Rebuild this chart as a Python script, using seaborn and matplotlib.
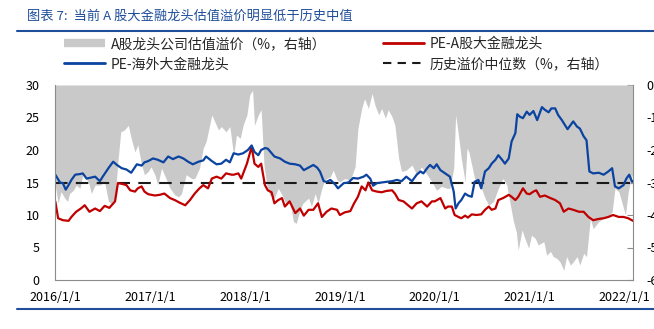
import numpy as np
import pandas as pd
import matplotlib
matplotlib.use("Agg")
import matplotlib.pyplot as plt
import seaborn as sns
from matplotlib.lines import Line2D

sns.set_theme(style="white")
plt.rcParams['font.family'] = ['Noto Sans CJK SC', 'DejaVu Sans']
plt.rcParams['axes.unicode_minus'] = False

# ---------------- data (time as years since 2016/1/1) ----------------
blue_t = [0.00,0.05,0.08,0.11,0.14,0.17,0.21,0.26,0.29,0.33,0.36,0.42,0.47,0.50,0.56,0.61,0.65,0.70,0.75,0.80,
          0.86,0.91,0.94,0.98,1.03,1.08,1.14,1.19,1.24,1.30,1.35,1.40,1.45,1.51,1.56,1.59,1.65,1.70,1.75,1.80,1.84,
          1.88,1.93,1.98,2.03,2.07,2.10,2.14,2.17,2.21,2.24,2.28,2.31,2.37,2.42,2.47,2.53,2.58,2.62,2.67,2.72,2.76,
          2.79,2.83,2.86,2.90,2.95,2.98,3.04,3.09,3.14,3.19,3.25,3.28,3.32,3.35,3.39,3.44,3.49,3.55,3.60,3.65,3.70,
          3.76,3.81,3.85,3.88,3.92,
          3.95,3.99,4.02,4.06,4.11,4.16,4.20,4.22,4.25,4.28,4.32,4.35,4.39,4.42,4.46,4.49,4.53,4.57,4.60,4.64,4.67,
          4.71,4.74,4.78,4.81,4.85,4.87,4.90,4.93,4.97,5.00,5.04,5.08,5.13,5.16,5.20,5.23,5.27,5.30,5.34,5.37,5.40,
          5.43,5.46,5.50,5.53,5.57,5.60,5.63,5.67,5.73,5.78,5.83,5.87,5.90,5.94,5.99,6.02,6.05,6.08,6.09]
pe_overseas = [16.2,15.0,14.9,13.9,14.6,15.4,16.2,16.3,16.4,15.6,15.7,15.9,15.2,15.9,17.2,18.2,17.7,17.2,17.0,16.5,
               17.8,17.6,18.1,18.3,18.7,18.5,18.1,19.0,18.6,19.0,18.7,18.2,17.8,18.2,18.4,19.0,18.3,17.8,17.9,18.5,18.1,
               19.5,19.3,19.5,20.0,20.7,19.7,19.2,20.0,20.3,20.2,19.5,19.0,18.7,18.2,17.9,17.8,17.6,16.9,17.3,17.7,17.3,
               16.7,15.2,15.1,15.4,14.7,14.1,14.9,15.0,15.7,15.6,15.9,16.2,15.6,14.5,14.9,15.0,15.1,15.2,15.4,15.2,15.9,
               15.2,16.2,16.7,16.4,17.2,
               17.7,17.2,17.8,16.9,16.4,15.9,13.6,11.0,11.8,12.3,13.3,13.0,12.8,15.1,15.4,14.1,16.7,17.2,17.9,18.5,19.2,
               18.5,17.9,18.7,21.3,22.6,25.5,25.1,24.9,25.9,25.4,26.0,24.6,26.6,26.2,25.8,26.4,26.4,25.4,24.6,23.9,23.2,
               23.8,24.4,23.6,23.3,22.1,21.5,16.7,16.4,16.5,16.2,16.7,17.2,14.4,14.1,14.6,15.6,16.2,15.1,15.2]

red_t = [0.00,0.03,0.08,0.14,0.17,0.22,0.27,0.31,0.36,0.42,0.47,0.52,0.57,0.63,0.66,0.70,0.75,0.79,0.84,0.87,0.91,
         0.94,0.98,1.05,1.10,1.15,1.21,1.26,1.31,1.37,1.42,1.47,1.52,1.56,1.61,1.65,1.70,1.75,1.80,1.86,
         1.88,1.93,1.96,2.02,2.07,2.10,2.14,2.17,2.21,2.24,2.28,2.31,2.35,2.39,2.42,2.47,2.53,2.58,2.62,2.67,2.72,
         2.77,2.81,2.86,2.91,2.97,3.00,3.05,3.11,3.15,3.19,3.23,3.27,3.30,3.34,3.39,3.44,3.49,3.55,3.58,3.62,3.67,
         3.72,3.76,3.81,3.86,3.92,3.97,
         4.00,4.06,4.11,4.14,4.18,4.21,4.25,4.28,4.32,4.35,4.39,4.44,4.49,4.53,4.57,4.60,4.64,4.67,4.72,4.78,4.81,
         4.85,4.88,4.93,4.97,5.00,5.04,5.07,5.11,5.16,5.22,5.27,5.32,5.36,5.41,5.46,5.52,5.57,5.62,5.67,5.73,5.78,
         5.83,5.88,5.94,5.99,6.04,6.09]
pe_a_share = [12.1,9.5,9.2,9.1,9.7,10.5,11.0,11.5,10.5,11.0,10.6,11.4,11.1,12.1,14.9,14.8,14.6,13.8,13.6,14.1,14.4,
              13.6,13.2,13.0,13.1,13.3,12.6,12.3,11.9,11.5,12.3,13.3,14.1,14.6,14.1,15.6,15.9,15.6,16.4,16.2,
              16.2,16.4,15.6,17.9,20.5,17.9,17.4,17.9,14.6,13.8,13.5,11.8,12.3,12.6,11.3,12.1,10.3,11.0,9.9,10.8,10.8,
              11.8,9.7,10.5,11.0,10.8,10.0,10.4,10.6,11.8,12.8,14.4,13.8,15.0,13.8,13.6,13.5,13.7,13.8,13.3,12.3,12.1,
              11.5,11.0,11.8,12.1,11.3,12.1,
              12.1,12.6,11.0,11.3,11.3,10.0,9.7,9.5,9.9,9.6,10.1,10.0,10.1,10.8,11.3,10.8,11.0,12.3,12.6,13.1,12.8,
              12.3,12.8,14.1,13.3,13.2,13.6,13.8,12.8,13.0,12.6,12.3,11.8,10.5,11.0,10.8,10.5,10.5,9.7,9.2,9.4,9.5,
              9.7,10.0,9.7,9.7,9.5,9.1]

gray_t = [0.00,0.03,0.06,0.10,0.13,0.15,0.19,0.22,0.26,0.29,0.35,0.38,0.42,0.47,0.52,0.56,0.59,0.63,0.66,0.69,0.73,
          0.77,0.80,0.84,0.87,0.91,0.94,0.98,1.01,1.05,1.08,1.12,1.15,1.21,1.26,1.30,1.33,1.38,1.44,1.47,1.52,1.56,
          1.59,1.65,1.68,1.72,1.75,1.80,1.84,
          1.88,1.91,1.95,1.98,2.02,2.05,2.08,2.10,2.14,2.17,2.20,2.23,2.26,2.31,2.35,2.39,2.44,2.47,2.51,2.54,2.58,
          2.61,2.67,2.70,2.74,2.77,2.81,2.84,2.90,2.93,2.97,3.00,3.05,3.11,3.16,3.19,3.23,3.26,3.30,3.34,3.37,3.41,
          3.44,3.48,3.51,3.55,3.58,3.62,3.65,3.70,3.76,3.81,3.86,3.92,3.97,
          4.02,4.07,4.13,4.16,4.20,4.22,4.25,4.28,4.32,4.34,4.36,4.39,4.42,4.48,4.53,4.57,4.62,4.67,4.72,4.76,4.79,
          4.83,4.86,4.88,4.92,4.95,4.99,5.02,5.06,5.09,5.15,5.18,5.22,5.25,5.29,5.32,5.36,5.39,5.43,5.46,5.50,5.53,
          5.57,5.60,5.64,5.67,5.73,5.78,5.83,5.87,5.90,5.94,5.97,6.01,6.04,6.08,6.09]
premium = [-30.8,-36.4,-32.8,-34.8,-35.8,-33.4,-32.4,-30.8,-31.8,-27.6,-29.8,-33.4,-30.8,-30.8,-29.8,-35.8,-36.4,
           -34.8,-23.6,-14.4,-13.8,-12.4,-16.4,-20.6,-18.4,-24.6,-27.6,-26.6,-25.2,-27.6,-30.8,-25.6,-27.6,-31.8,
           -33.8,-34.4,-33.4,-27.6,-28.8,-28.8,-25.6,-19.4,-17.4,-9.2,-11.2,-13.8,-12.8,-14.4,-12.8,
           -21.6,-15.4,-16.4,-12.4,-9.2,-3.0,-1.6,-12.4,-9.2,-7.6,-24.6,-30.8,-33.8,-34.8,-31.8,-33.8,-37.0,-35.4,
           -42.0,-42.6,-38.4,-36.4,-34.8,-37.4,-33.4,-36.4,-31.8,-29.2,-28.2,-26.2,-29.2,-29.8,-28.8,-29.2,-25.2,
           -13.4,-7.2,-4.2,-7.2,-2.6,-6.2,-9.2,-7.2,-10.2,-7.6,-9.8,-12.4,-22.6,-26.6,-26.2,-24.6,-27.6,-25.2,-27.6,
           -29.8,
           -32.4,-31.2,-31.8,-31.8,-25.6,-9.2,-15.4,-22.6,-29.8,-19.4,-20.6,-24.6,-28.8,-30.8,-34.8,-37.0,-35.8,
           -31.8,-28.8,-30.8,-35.8,-42.0,-45.2,-50.8,-44.6,-47.2,-50.2,-46.2,-47.2,-49.2,-48.2,-52.4,-51.2,-52.8,
           -53.4,-54.4,-57.0,-52.8,-55.4,-54.4,-52.8,-55.4,-51.8,-52.8,-41.0,-44.2,-42.0,-41.0,-40.6,-39.0,-31.8,
           -32.8,-35.8,-40.0,-32.8,-27.6,-35.8]
median_premium = -30.0

start_year = 2016
year_ticks = [2016, 2017, 2018, 2019, 2020, 2021, 2022]
year_labels = [f"{y}/1/1" for y in year_ticks]
left_ticks = [0, 5, 10, 15, 20, 25, 30]
right_ticks = [0, -10, -20, -30, -40, -50, -60]

title = "图表 7:  当前 A 股大金融龙头估值溢价明显低于历史中值"
lbl_gray = "A股龙头公司估值溢价（%，右轴）"
lbl_red = "PE-A股大金融龙头"
lbl_blue = "PE-海外大金融龙头"
lbl_dash = "历史溢价中位数（%，右轴）"

# ---------------- styling ----------------
C_BLUE = "#0b43a0"
C_RED = "#c00000"
C_GRAY = "#c9c9c9"
C_TITLE = "#1f4e9a"
C_SPINE = "#8c8c8c"

df_blue = pd.DataFrame({"t": np.array(blue_t) + start_year, "v": pe_overseas})
df_red = pd.DataFrame({"t": np.array(red_t) + start_year, "v": pe_a_share})
df_gray = pd.DataFrame({"t": np.array(gray_t) + start_year, "v": premium})

fig = plt.figure(figsize=(6.54, 3.29), dpi=100)
ax = fig.add_axes([55 / 654, 1 - 280 / 329, (633 - 55) / 654, (280 - 85) / 329])
axr = ax.twinx()

# right axis: premium area and median
axr.fill_between(df_gray["t"], 0, df_gray["v"], color=C_GRAY, lw=0)
axr.axhline(median_premium, color="#1a1a1a", lw=1.5, dashes=(6, 4))
axr.set_ylim(-60, 0)
axr.set_yticks(right_ticks)
axr.set_yticklabels([str(v) for v in right_ticks])

# left axis lines on top
ax.set_zorder(axr.get_zorder() + 1)
ax.patch.set_visible(False)
sns.lineplot(data=df_red, x="t", y="v", ax=ax, color=C_RED, lw=1.6, legend=False)
sns.lineplot(data=df_blue, x="t", y="v", ax=ax, color=C_BLUE, lw=1.6, legend=False)
ax.set_ylim(0, 30)
ax.set_xlim(2015.997, 2022.09)
ax.set_yticks(left_ticks)
ax.set_xticks(year_ticks)
ax.set_xticklabels(year_labels)
ax.set_xlabel("")
ax.set_ylabel("")

for a in (ax, axr):
    for s in a.spines.values():
        s.set_color(C_SPINE)
        s.set_linewidth(0.8)
    a.spines["top"].set_visible(False)
ax.spines["right"].set_visible(False)
axr.spines["left"].set_visible(False)
axr.spines["bottom"].set_visible(False)

ax.tick_params(axis="x", direction="in", length=4, width=0.8, color=C_SPINE, pad=8, labelsize=9, labelcolor="black")
ax.tick_params(axis="y", direction="in", length=0, pad=11, labelsize=9, labelcolor="black")
axr.tick_params(axis="y", direction="in", length=4, width=0.8, color=C_SPINE, pad=9.5, labelsize=9, labelcolor="black")

# title and rules
fig.text(27 / 654, 1 - 16 / 329, title, color=C_TITLE, fontsize=9.5, style="italic", va="center", ha="left")
fig.add_artist(Line2D([17 / 654, 1], [1 - 31 / 329] * 2, color=C_TITLE, lw=1.5, transform=fig.transFigure))
fig.add_artist(Line2D([17 / 654, 1], [1 - 309 / 329] * 2, color=C_TITLE, lw=1.5, transform=fig.transFigure))

# legends
h_gray = Line2D([0], [0], color=C_GRAY, lw=6, solid_capstyle="butt")
h_blue = Line2D([0], [0], color=C_BLUE, lw=2)
h_red = Line2D([0], [0], color=C_RED, lw=2)
h_dash = Line2D([0], [0], color="#1a1a1a", lw=1.5, dashes=(4, 3))
common = dict(loc="upper left", frameon=False, borderpad=0, borderaxespad=0, handlelength=2.95,
              handletextpad=0.4, labelspacing=0.45, fontsize=10)
leg1 = fig.legend([h_gray, h_blue], [lbl_gray, lbl_blue], bbox_to_anchor=(64 / 654, 1 - 37 / 329), **common)
leg2 = fig.legend([h_red, h_dash], [lbl_red, lbl_dash], bbox_to_anchor=(383 / 654, 1 - 37 / 329), **common)

fig.savefig("out.png", dpi=100)
